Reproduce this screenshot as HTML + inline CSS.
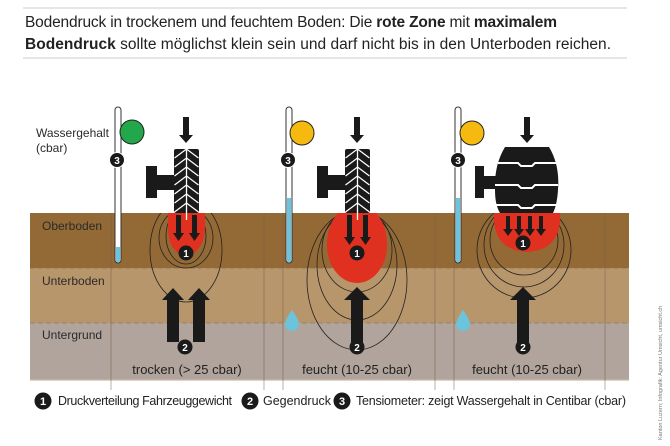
<!DOCTYPE html>
<html><head><meta charset="utf-8"><style>
html,body{margin:0;padding:0;background:#fff;}
svg{display:block;font-family:"Liberation Sans",sans-serif;}
</style></head><body>
<svg width="670" height="446" viewBox="0 0 670 446" xmlns="http://www.w3.org/2000/svg">
<defs>
<g id="chev" stroke="#fff" stroke-width="1.3" fill="none">
<path d="M-12 0 L0 -9 L12 0 M-12 9 L0 0 L12 9 M-12 18 L0 9 L12 18 M-12 27 L0 18 L12 27 M-12 36 L0 27 L12 36 M-12 45 L0 36 L12 45 M-12 54 L0 45 L12 54"/>
<line x1="0" y1="-12" x2="0" y2="62"/>
</g>
<clipPath id="soil"><rect x="0" y="213" width="670" height="200"/></clipPath>
</defs>
<line x1="23" y1="8" x2="627" y2="8" stroke="#ccc" stroke-width="1"/>
<line x1="23" y1="58" x2="627" y2="58" stroke="#ccc" stroke-width="1"/>
<text x="25" y="27" font-size="15.5" fill="#222" textLength="532">Bodendruck in trockenem und feuchtem Boden: Die <tspan font-weight="bold">rote Zone</tspan> mit <tspan font-weight="bold">maximalem</tspan></text>
<text x="25" y="49" font-size="15.5" fill="#222" textLength="586"><tspan font-weight="bold">Bodendruck</tspan> sollte möglichst klein sein und darf nicht bis in den Unterboden reichen.</text>

<!-- soil -->
<rect x="30" y="213" width="599" height="55" fill="#936a35"/>
<rect x="30" y="268" width="599" height="55" fill="#b8966c"/>
<rect x="30" y="323" width="599" height="57" fill="#b0a49c"/>
<line x1="30" y1="268" x2="629" y2="268" stroke="#8a6a45" stroke-dasharray="5 3" stroke-width="0.8"/>
<line x1="30" y1="323" x2="629" y2="323" stroke="#8e7a6a" stroke-dasharray="5 3" stroke-width="0.8"/>
<line x1="30" y1="380" x2="629" y2="380" stroke="#c9b9a9" stroke-width="1.2"/>
<g stroke="#7a5e42" stroke-width="0.7" opacity="0.7">
<line x1="111" y1="213" x2="111" y2="390"/><line x1="264" y1="213" x2="264" y2="390"/><line x1="283" y1="213" x2="283" y2="390"/>
<line x1="435" y1="213" x2="435" y2="390"/><line x1="454" y1="213" x2="454" y2="390"/><line x1="605" y1="213" x2="605" y2="390"/>
</g>
<text x="42" y="230" font-size="12" fill="#2a2a2a">Oberboden</text>
<text x="42" y="285" font-size="12" fill="#2a2a2a">Unterboden</text>
<text x="42" y="339" font-size="12" fill="#2a2a2a">Untergrund</text>
<text x="36" y="137" font-size="12" fill="#2a2a2a">Wassergehalt</text>
<text x="36" y="152" font-size="12" fill="#2a2a2a">(cbar)</text>

<!-- tensiometers -->
<g>
<rect x="115" y="107" width="6" height="156" rx="3" fill="#fff" stroke="#333" stroke-width="1"/>
<rect x="116" y="247" width="4" height="15" fill="#6cc4dc"/>
<circle cx="132" cy="132" r="12" fill="#22a84a" stroke="#222" stroke-width="1"/>
<rect x="286" y="107" width="6" height="156" rx="3" fill="#fff" stroke="#333" stroke-width="1"/>
<rect x="287" y="198" width="4" height="64" fill="#6cc4dc"/>
<circle cx="302" cy="133" r="12" fill="#f5b910" stroke="#222" stroke-width="1"/>
<rect x="455" y="107" width="6" height="156" rx="3" fill="#fff" stroke="#333" stroke-width="1"/>
<rect x="456" y="198" width="4" height="64" fill="#6cc4dc"/>
<circle cx="472" cy="133" r="12" fill="#f5b910" stroke="#222" stroke-width="1"/>
</g>

<!-- contours -->
<g fill="none" stroke="#222" stroke-width="0.8" clip-path="url(#soil)">
<ellipse cx="186" cy="250" rx="36" ry="52"/>
<ellipse cx="186" cy="238" rx="27" ry="30"/>
<ellipse cx="186" cy="236" rx="20" ry="28"/>
<ellipse cx="357" cy="280" rx="50" ry="70"/>
<ellipse cx="357" cy="265" rx="40" ry="55"/>
<ellipse cx="357" cy="250" rx="35" ry="42"/>
<ellipse cx="524" cy="250" rx="47" ry="48"/>
<ellipse cx="524" cy="245" rx="40" ry="42"/>
<ellipse cx="524" cy="240" rx="34" ry="35"/>
</g>

<!-- red zones -->
<path d="M168 213 L205 213 L205 228 Q204 252 186 256 Q168 252 168 228 Z" fill="#e03020"/>
<path d="M338 213 L376 213 Q387 225 387 245 A30 38 0 0 1 327 245 Q327 225 338 213 Z" fill="#e03020"/>
<path d="M494 213 L560 213 Q562 250 527 252 Q492 250 494 213 Z" fill="#e03020"/>

<g fill="#1a1a1a">
<path d="M176 215h5v18h3l-5.5 8l-5.5-8h3z"/>
<path d="M192 215h5v18h3l-5.5 8l-5.5-8h3z"/>
<path d="M347 215h5v22h3l-5.5 8l-5.5-8h3z"/>
<path d="M363 215h5v22h3l-5.5 8l-5.5-8h3z"/>
<path d="M506 216h4v13h3l-5 7l-5-7h3z"/>
<path d="M517 216h4v13h3l-5 7l-5-7h3z"/>
<path d="M528 216h4v13h3l-5 7l-5-7h3z"/>
<path d="M539 216h4v13h3l-5 7l-5-7h3z"/>
<path d="M183 117h6v18h4l-7 8l-7-8h4z"/>
<path d="M354 117h6v18h4l-7 8l-7-8h4z"/>
<path d="M524 117h6v18h4l-7 8l-7-8h4z"/>
<path d="M167 342v-42h-5l11-12l11 12h-5v42z"/>
<path d="M193 342v-42h-5l11-12l11 12h-5v42z"/>
<path d="M351 345v-45h-7l13-13l13 13h-7v45z"/>
<path d="M517 345v-45h-7l13-13l13 13h-7v45z"/>
<path d="M146 166h11v9h17v15h-17v8h-11z"/>
<path d="M317 166h11v9h17v15h-17v8h-11z"/>
<path d="M475 166h9v10h13v13h-13v9h-9z"/>
<rect x="174" y="149" width="25" height="64" rx="2"/>
<rect x="345" y="149" width="25" height="64" rx="2"/>
<path d="M505 147 L549 147 Q560 165 558 190 Q557 205 553 213 L500 213 Q495 205 495 190 Q494 165 505 147 Z"/>
</g>
<use href="#chev" x="186.5" y="158"/>
<use href="#chev" x="357.5" y="158"/>
<g stroke="#fff" stroke-width="2" fill="none">
<path d="M498 163 L518 163 L521 166 L532 166 L535 163 L556 163"/>
<path d="M495 185 L518 185 L521 188 L532 188 L535 185 L558 185"/>
<path d="M496 205 L518 205 L521 208 L532 208 L535 205 L558 205"/>
</g>

<path d="M292 310 Q285 320 285 324 A7 7 0 0 0 299 324 Q299 320 292 310 Z" fill="#6cc4dc"/>
<path d="M463 310 Q456 320 456 324 A7 7 0 0 0 470 324 Q470 320 463 310 Z" fill="#6cc4dc"/>

<g font-size="10" font-weight="bold" fill="#fff" text-anchor="middle">
<circle cx="117" cy="160" r="7.5" fill="#1a1a1a" stroke="#fff" stroke-width="1"/><text x="117" y="164">3</text>
<circle cx="288" cy="160" r="7.5" fill="#1a1a1a" stroke="#fff" stroke-width="1"/><text x="288" y="164">3</text>
<circle cx="458" cy="160" r="7.5" fill="#1a1a1a" stroke="#fff" stroke-width="1"/><text x="458" y="164">3</text>
<circle cx="186" cy="253" r="7.5" fill="#1a1a1a"/><text x="186" y="257">1</text>
<circle cx="357" cy="253" r="7.5" fill="#1a1a1a"/><text x="357" y="257">1</text>
<circle cx="523" cy="243" r="7.5" fill="#1a1a1a"/><text x="523" y="247">1</text>
<circle cx="185" cy="347" r="7.5" fill="#1a1a1a"/><text x="185" y="351">2</text>
<circle cx="357" cy="347" r="7.5" fill="#1a1a1a"/><text x="357" y="351">2</text>
<circle cx="523" cy="347" r="7.5" fill="#1a1a1a"/><text x="523" y="351">2</text>
</g>
<g font-size="13" fill="#222" text-anchor="middle">
<text x="187" y="374">trocken (&gt; 25 cbar)</text>
<text x="357" y="374">feucht (10-25 cbar)</text>
<text x="527" y="374">feucht (10-25 cbar)</text>
</g>

<g font-size="11" font-weight="bold" fill="#fff" text-anchor="middle">
<circle cx="43" cy="401" r="8.5" fill="#1a1a1a"/><text x="43" y="405">1</text>
<circle cx="250" cy="401" r="8.5" fill="#1a1a1a"/><text x="250" y="405">2</text>
<circle cx="342" cy="401" r="8.5" fill="#1a1a1a"/><text x="342" y="405">3</text>
</g>
<g font-size="12.5" fill="#222">
<text x="58" y="405" textLength="174">Druckverteilung Fahrzeuggewicht</text>
<text x="263" y="405" textLength="68">Gegendruck</text>
<text x="356" y="405" textLength="270">Tensiometer: zeigt Wassergehalt in Centibar (cbar)</text>
</g>
<text transform="translate(662,440) rotate(-90)" font-size="5.5" fill="#777">Kanton Luzern; Infografik: Agentur Umsicht, umsicht.ch</text>
</svg>
</body></html>
